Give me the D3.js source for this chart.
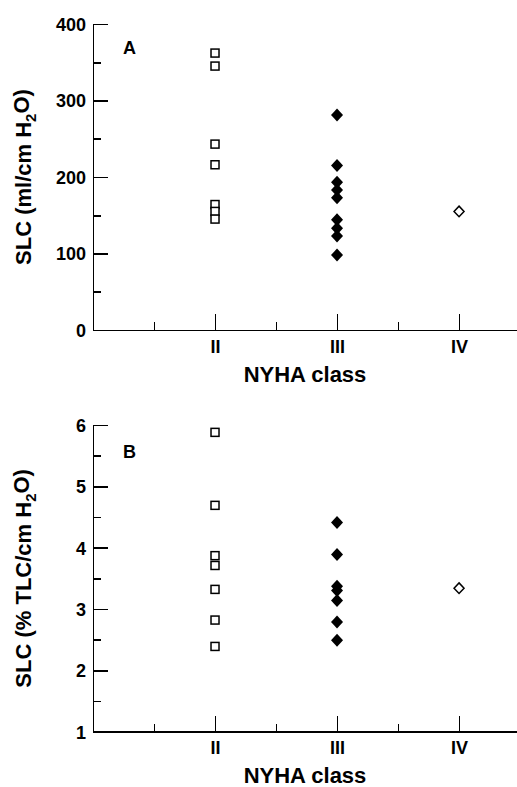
<!DOCTYPE html>
<meta charset="utf-8">
<head>
<style>
body { margin: 0; background: #fff; }
svg { display: block; }
.axis path, .axis line { stroke: #000; stroke-width: 1.6; shape-rendering: crispEdges; }
.axis text { font: bold 18px "Liberation Sans", Arial, sans-serif; fill: #000; }
.title { font: bold 22px "Liberation Sans", Arial, sans-serif; fill: #000; }
.panel { font: bold 18px "Liberation Sans", Arial, sans-serif; fill: #000; }
</style>
</head>
<body>
<svg width="517" height="787"></svg>
<script src="https://d3js.org/d3.v7.min.js"></script>
<script>

// NYHA classes on the x axis
var classes = [2, 3, 4];
var classLabels = ["II", "III", "IV"];

// panel A: SLC (ml/cm H2O)
var slcA_II = [362, 345, 243, 216, 164, 155, 145];
var slcA_III = [281, 215, 193, 183, 173, 144, 133, 123, 98];
var slcA_IV = [155];
var ticksA = [0, 100, 200, 300, 400];
var minorA = [50, 150, 250, 350];

// panel B: SLC (% TLC/cm H2O)
var slcB_II = [5.88, 4.69, 3.87, 3.71, 3.32, 2.82, 2.39];
var slcB_III = [4.41, 3.89, 3.37, 3.30, 3.14, 2.79, 2.49];
var slcB_IV = [3.34];
var ticksB = [1, 2, 3, 4, 5, 6];
var minorB = [1.5, 2.5, 3.5, 4.5, 5.5];

var svg = d3.select("svg");

var x = d3.scaleLinear().domain([1, 4.475]).range([93, 517]);

function diamond(w, h) {
  return "M0," + (-h) + "L" + w + ",0L0," + h + "L" + (-w) + ",0Z";
}

function panel(opts) {
  var y = d3.scaleLinear().domain(opts.domain).range(opts.range);
  var g = svg.append("g");

  // y axis, ticks pointing inward
  g.append("g").attr("class", "axis")
      .attr("transform", "translate(" + x.range()[0] + ",0)")
      .call(d3.axisLeft(y).tickValues(opts.ticks).tickSize(-15).tickSizeOuter(0).tickPadding(7)
        .tickFormat(d3.format("d")))
      .selectAll("text").attr("dy", "0.36em");
  g.append("g").attr("class", "axis")
      .attr("transform", "translate(" + x.range()[0] + ",0)")
      .call(d3.axisLeft(y).tickValues(opts.minor).tickSize(-8).tickFormat(""))
      .select(".domain").remove();

  // x axis
  var base = y.range()[0];
  g.append("g").attr("class", "axis")
      .attr("transform", "translate(0," + base + ")")
      .call(d3.axisBottom(x).tickValues(classes).tickSize(-16).tickSizeOuter(0).tickPadding(10)
        .tickFormat(function(d, i) { return classLabels[i]; }));
  g.append("g").attr("class", "axis")
      .attr("transform", "translate(0," + base + ")")
      .call(d3.axisBottom(x).tickValues([1.5, 2.5, 3.5]).tickSize(-8).tickFormat(""))
      .select(".domain").remove();

  // x title
  g.append("text").attr("class", "title")
      .attr("x", (x.range()[0] + x.range()[1]) / 2)
      .attr("y", base + 51.5)
      .attr("text-anchor", "middle")
      .text("NYHA class");

  // y title
  var yt = g.append("text").attr("class", "title")
      .attr("transform", "translate(31," + (y.range()[0] + y.range()[1]) / 2 + ") rotate(-90)")
      .attr("text-anchor", "middle");
  yt.append("tspan").text(opts.ytitle);
  yt.append("tspan").attr("font-size", "15px").attr("dy", "0.3em").text("2");
  yt.append("tspan").attr("dy", "-0.3em").text("O)");

  // panel letter
  g.append("text").attr("class", "panel")
      .attr("x", 123).attr("y", opts.letterY)
      .text(opts.letter);

  // class II: open squares
  g.selectAll(".sq").data(opts.II).enter().append("rect")
      .attr("x", x(2) - 4).attr("y", function(d) { return y(d) - 4; })
      .attr("width", 8).attr("height", 8)
      .attr("fill", "#fff").attr("stroke", "#000").attr("stroke-width", 1.5);

  // class III: filled diamonds
  g.selectAll(".fd").data(opts.III).enter().append("path")
      .attr("transform", function(d) { return "translate(" + x(3) + "," + y(d) + ")"; })
      .attr("d", diamond(6, 6.5))
      .attr("fill", "#000");

  // class IV: open diamond
  g.selectAll(".od").data(opts.IV).enter().append("path")
      .attr("transform", function(d) { return "translate(" + x(4) + "," + y(d) + ")"; })
      .attr("d", diamond(5, 5.3))
      .attr("fill", "#fff").attr("stroke", "#000").attr("stroke-width", 1.5);
}

panel({
  domain: [0, 400], range: [330, 24], ticks: ticksA, minor: minorA,
  ytitle: "SLC (ml/cm H", letter: "A", letterY: 54,
  II: slcA_II, III: slcA_III, IV: slcA_IV
});

panel({
  domain: [1, 6], range: [731.7, 425], ticks: ticksB, minor: minorB,
  ytitle: "SLC (% TLC/cm H", letter: "B", letterY: 458,
  II: slcB_II, III: slcB_III, IV: slcB_IV
});

</script>
</body>
</html>
